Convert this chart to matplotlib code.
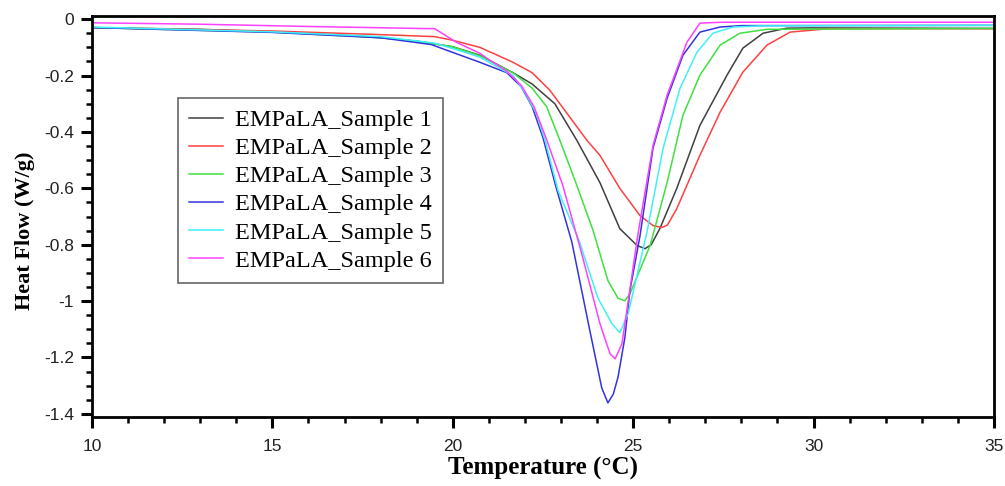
import numpy as np
import matplotlib
matplotlib.use("Agg")
import matplotlib.pyplot as plt
from matplotlib.ticker import MultipleLocator, FuncFormatter

# Temperature (C) / heat flow (W/g)
s1_t = [10, 13, 15, 17, 18, 19, 20, 20.75, 21.67, 22.2, 22.83, 23.44, 24.08,
        24.63, 25.11, 25.33, 25.5, 25.74, 26.21, 26.85, 27.6, 28.04, 28.6, 29.26, 30, 35]
s1_v = [-0.030, -0.036, -0.045, -0.057, -0.066, -0.078, -0.098, -0.128, -0.19, -0.23, -0.30, -0.43, -0.58,
        -0.743, -0.803, -0.814, -0.80, -0.743, -0.60, -0.377, -0.199, -0.103, -0.05, -0.032, -0.031, -0.033]

s2_t = [10, 15, 18, 19.5, 20, 20.75, 21.67, 22.2, 22.69, 23.2, 23.72, 24.08, 24.63, 25.19, 25.55,
        25.8, 25.95, 26.21, 26.85, 27.41, 28.04, 28.71, 29.35, 30.4, 35]
s2_v = [-0.030, -0.042, -0.055, -0.062, -0.075, -0.10, -0.153, -0.19, -0.252, -0.34, -0.43, -0.483, -0.60, -0.697, -0.732,
        -0.739, -0.73, -0.672, -0.483, -0.33, -0.188, -0.092, -0.046, -0.034, -0.034]

s3_t = [10, 15, 18, 19, 20, 20.75, 21.67, 22.2, 22.6, 22.97, 23.44, 23.89, 24.3, 24.58,
        24.77, 24.91, 25.47, 25.94, 26.38, 26.85, 27.41, 27.96, 28.71, 35]
s3_v = [-0.030, -0.046, -0.066, -0.078, -0.098, -0.13, -0.19, -0.245, -0.31, -0.43, -0.59, -0.75, -0.927, -0.99,
        -0.999, -0.974, -0.803, -0.58, -0.341, -0.199, -0.092, -0.05, -0.036, -0.033]

s4_t = [10, 15, 18, 19.4, 20.75, 21.5, 21.9, 22.2, 22.5, 22.85, 23.3, 23.8, 24.13, 24.3,
        24.45, 24.58, 24.77, 24.91, 25.19, 25.55, 25.94, 26.38, 26.85, 27.41, 28, 35]
s4_v = [-0.030, -0.047, -0.066, -0.09, -0.153, -0.19, -0.24, -0.31, -0.42, -0.59, -0.79, -1.105, -1.308, -1.361,
        -1.33, -1.27, -1.13, -0.963, -0.768, -0.458, -0.281, -0.128, -0.046, -0.028, -0.023, -0.022]

s5_t = [10, 15, 18, 19.5, 20.4, 20.75, 21.67, 22.0, 22.3, 22.56, 22.92, 23.5, 24.02, 24.41,
        24.63, 24.86, 25.38, 25.83, 26.3, 26.77, 27.21, 27.77, 28.5, 35]
s5_v = [-0.028, -0.045, -0.062, -0.085, -0.12, -0.135, -0.20, -0.26, -0.33, -0.43, -0.608, -0.785, -0.988, -1.08,
        -1.112, -1.045, -0.757, -0.458, -0.245, -0.117, -0.05, -0.028, -0.024, -0.022]

s6_t = [10, 13, 16, 19.5, 20.1, 20.75, 20.95, 21.5, 21.9, 22.25, 22.61, 23.05, 23.55, 24.08,
        24.36, 24.5, 24.69, 25.14, 25.55, 25.94, 26.49, 26.85, 27.49, 35]
s6_v = [-0.013, -0.018, -0.026, -0.034, -0.082, -0.121, -0.139, -0.185, -0.235, -0.31, -0.43, -0.59, -0.82, -1.08,
        -1.187, -1.205, -1.151, -0.757, -0.448, -0.27, -0.082, -0.014, -0.011, -0.011]

labels = ["EMPaLA_Sample 1", "EMPaLA_Sample 2", "EMPaLA_Sample 3",
          "EMPaLA_Sample 4", "EMPaLA_Sample 5", "EMPaLA_Sample 6"]
colors = ["#404040", "#ff4040", "#40e040", "#3333e0", "#40f0f8", "#ff40ff"]
series = [(s1_t, s1_v), (s2_t, s2_v), (s3_t, s3_v), (s4_t, s4_v), (s5_t, s5_v), (s6_t, s6_v)]

plt.rcParams['axes.unicode_minus'] = False

fig = plt.figure(figsize=(10.05, 4.86), dpi=100)
ax = fig.add_axes([0.0915, 0.142, 0.8975, 0.825])

for (t, v), c, lab in zip(series, colors, labels):
    ax.plot(t, v, color=c, lw=1.1, label=lab)

ax.set_xlim(10, 35)
ax.set_ylim(-1.411, 0.011)
ax.xaxis.set_major_locator(MultipleLocator(5))
ax.xaxis.set_minor_locator(MultipleLocator(1))
ax.yaxis.set_major_locator(MultipleLocator(0.2))
ax.yaxis.set_minor_locator(MultipleLocator(0.05))
ax.yaxis.set_major_formatter(FuncFormatter(lambda v, p: '%g' % round(v, 1)))

for s in ax.spines.values():
    s.set_linewidth(2)
ax.tick_params(which='major', direction='out', length=8, width=2.2, pad=5)
ax.tick_params(which='minor', direction='out', length=4.5, width=1.8)
ax.tick_params(axis='x', which='major', pad=8)
for lbl in ax.get_xticklabels() + ax.get_yticklabels():
    lbl.set_fontfamily('Liberation Sans')
    lbl.set_fontsize(12.5)
    lbl.set_color('#222222')

ax.set_xlabel("Temperature (°C)", fontfamily='Liberation Serif', fontweight='bold', fontsize=18, labelpad=2)
ax.set_ylabel("Heat Flow (W/g)", fontfamily='Liberation Serif', fontweight='bold', fontsize=16)
ax.yaxis.set_label_coords(-0.063, 0.465)

leg = ax.legend(loc='upper left', bbox_to_anchor=(0.0953, 0.795), borderaxespad=0,
                fancybox=False, edgecolor='#666666', framealpha=1,
                prop={'family': 'Liberation Serif', 'size': 17.5},
                labelspacing=0.25, handlelength=1.4, handletextpad=0.5, borderpad=0.45)
leg.get_frame().set_linewidth(1.2)

fig.savefig("out.png", dpi=100)
